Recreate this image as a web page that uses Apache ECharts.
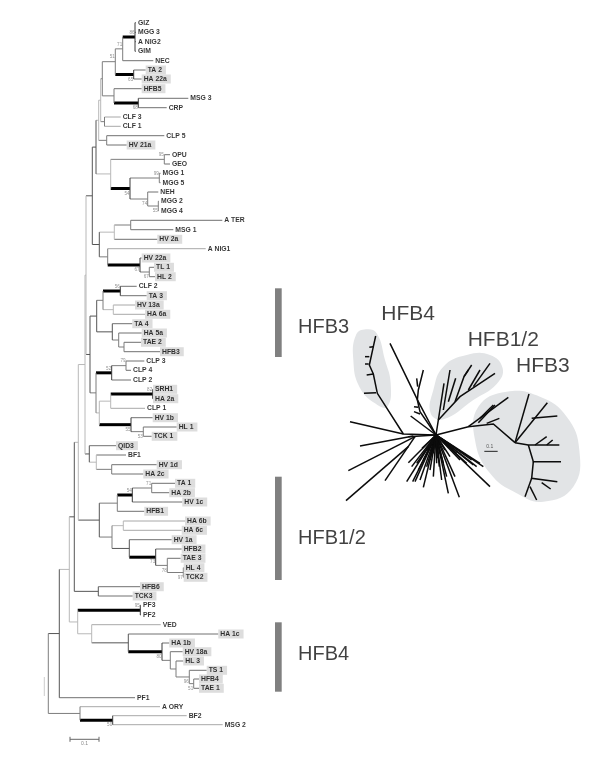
<!DOCTYPE html>
<html><head><meta charset="utf-8">
<style>html,body{margin:0;padding:0;background:#fff}#c{width:600px;height:760px}</style>
<script src="https://cdn.jsdelivr.net/npm/echarts@6/dist/echarts.min.js"></script>
</head><body><div id="c"></div>
<script>
// ---------- main tree: taxa (distance from root in tree units, 29 units = bar 0.1) ----------
const taxa = ["GIZ","MGG 3","A NIG2","GIM","NEC","TA 2","HA 22a","HFB5","MSG 3","CRP","CLF 3","CLF 1","CLP 5","HV 21a","OPU","GEO","MGG 1","MGG 5","NEH","MGG 2","MGG 4","A TER","MSG 1","HV 2a","A NIG1","HV 22a","TL 1","HL 2","CLF 2","TA 3","HV 13a","HA 6a","TA 4","HA 5a","TAE 2","HFB3","CLP 3","CLP 4","CLP 2","SRH1","HA 2a","CLP 1","HV 1b","HL 1","TCK 1","QID3","BF1","HV 1d","HA 2c","TA 1","HA 2b","HV 1c","HFB1","HA 6b","HA 6c","HV 1a","HFB2","TAE 3","HL 4","TCK2","HFB6","TCK3","PF3","PF2","VED","HA 1c","HA 1b","HV 18a","HL 3","TS 1","HFB4","TAE 1","PF1","A ORY","BF2","MSG 2"];
const taxaRowY = [22.7,32.3,41.7,51.3,60.7,70,79,88.7,98.3,107.7,117,126.3,135.7,145,154.7,164,173.3,182.7,192,201.3,210.7,220.3,229.7,239.3,248.7,258,267.3,276.7,286.3,295.7,305,314.3,323.7,333,342.3,351.7,361,370.3,380,389.3,398.7,408.3,417.7,427,436.3,445.7,455,464.7,474,483.3,492.7,502,511.3,521,530.3,539.7,549,558.3,567.7,577.3,586.7,596,605.3,615,624.7,634,643,651.7,661,670.3,679,688.3,697.7,706.7,715.7,724.7];
const taxaDist = [88,88,88,88,105.3,97.7,93.7,93.7,140.3,118.7,72.7,72.7,116.3,78.7,122,122,112.5,112.5,110.3,111,111,174.3,125.3,109.3,157.7,93.7,106,107,88.7,98.7,87,97,84.3,93.7,93,112,96.3,83,83,105,105,97,104.7,128.7,103.7,68,78,108.7,95.3,127,121.3,134.3,96.3,137,133.7,123.7,133.7,132.7,135.7,135.7,92,84.7,93,93,112.7,170.3,121.3,134.7,135.3,158.7,151,151,87,112,138.7,174.7];
const taxaParent = ["R6a","R6a","R6a","R6a","R6","R5b","R5b","R4b","R4c","R4c","R3b","R3b","R2b","R2b","R7a","R7a","R7c","R7c","R7d","R7e","R7e","R9a","R9a","R9","R10","R10a","R10b","R10b","U1","U1","U2","U2","V","W","X","X","Z1","Z1","Z","AB1","AB1","AB","AC","AD","AD","AE","AF","AG","AG","AJ1","AJ1","AJ","AI","AK1","AK1","AL","AM","AN","AO","AO","D2","D2","PF","PF","F","G","H","I","J","K","L","L","A","B","B2","B2"];
const shadedTaxa = ["TA 2","HA 22a","HFB5","HV 21a","HV 2a","HV 22a","TL 1","HL 2","TA 3","HV 13a","HA 6a","TA 4","HA 5a","TAE 2","HFB3","SRH1","HA 2a","HV 1b","HL 1","TCK 1","QID3","HV 1d","HA 2c","TA 1","HA 2b","HV 1c","HFB1","HA 6b","HA 6c","HV 1a","HFB2","TAE 3","HL 4","TCK2","HFB6","TCK3","HA 1c","HA 1b","HV 18a","HL 3","TS 1","HFB4","TAE 1"];
const paleTaxa = ["A NIG1","VED","BF2","MSG 2","A ORY","HA 6b","HA 6c","HV 13a","HA 6a","CLF 3","CLF 1","CLP 1"];

// ---------- main tree: internal clades ----------
const cladeIds = ["root","A","B","C","D","D1","D2","E","PF","F","G","H","I","J","K","L","B2","P","Q","AE","S","R","T","U","U1","U2","V","W","X","Y","Z","Z1","AA","AB","AB1","AC","AD","AF","AG","AH","AI","AJ","AJ1","AK","AK1","AL","AM","AN","AO","R1","R2","R3","R4","R5","R6","R6a","R5b","R4b","R4c","R3b","R2b","R7","R7a","R7b","R7c","R7d","R7e","R8","R9","R9a","R10","R10a","R10b"];
const cladeParents = [null,"root","root","A","C","D","D","C","E","E","F","G","H","I","J","K","B","D1","P","P","Q","Q","S","T","U","U","T","V","W","S","Y","Z","Y","AA","AB","AA","AC","AE","AF","D1","AH","AI","AJ","AH","AK","AK","AL","AM","AN","R","R1","R2","R3","R4","R5","R6","R5","R4","R4b","R3","R2","R1","R7","R7","R7b","R7b","R7d","R","R8","R9","R8","R10","R10a"];
const cladeDists = [0.3,11.3,32,21.3,26.3,30.3,50.3,29.7,92.3,43.7,80.3,114,122.3,128,141.3,145.7,64.7,37,38,41.3,42,44.3,48.7,55,72.3,65.3,64.3,70.7,76,48,63.7,78,51.3,62.7,104.7,83,95.3,48.3,63.7,51.3,69.3,84.3,103.7,64,75.3,81.3,107.7,119.3,135.3,48,50.7,52.7,54.3,67.3,74.7,87,85.7,66,90.3,56.5,58.7,62.7,116.3,82,111.3,99.7,110.3,51.3,66.3,82.7,59.7,92,101.3];
const thickStems = ["R6a","R5b","R4c","R7b","R10a","U1","Z","AB1","AC","AJ","AM","PF","H","B2"];
const paleStems = ["C","E","F","Q","P","D1","R2","R3","U2","R7","AA","AF","R9","AK1","AB"];
const darkStems = ["A","D","D2","R","R1","R8","V","AL","AE","G","AH","T","S"];

const supportClades = ["R6a","R6","R5","R5b","R4c","R7a","R7c","R7b","R7d","R7e","R10a","R10b","U1","Z1","Z","AB1","AC","AD","AJ1","AJ","AM","AN","AO","PF","H","K","L","B2"];
const supportValues = ["86","71","51","65","68","95","99","54","74","55","67","67","56","79","52","82","55","53","71","54","73","78","97","95","80","96","51","50"];
const supportBelow = [0,0,0,1,1,0,0,1,1,1,1,1,0,0,0,0,1,1,0,0,1,1,1,0,1,1,1,1];

// ---------- group bars and big labels ----------
const groupNames = ["HFB3","HFB1/2","HFB4"];
const groupBarStart = [288.3,476.7,622.3];
const groupBarEnd = [357,580,691.7];
const groupLabelY = [327,538,654];
const insetTitles = ["HFB4","HFB1/2","HFB3"];
const insetTitleX = [124,383,528];
const insetTitleY = [72,150,230];

// ---------- inset unrooted tree, units = its own axes ----------
const insetBlobs = [
 [[78,118],[110,130],[135,210],[152,280],[142,350],[105,340],[58,290],[40,210],[48,135]],
 [[380,195],[450,195],[488,235],[470,282],[400,330],[310,388],[272,370],[280,300],[310,230]],
 [[500,305],[600,320],[680,380],[718,480],[700,590],[610,635],[530,610],[450,550],[405,450],[415,350]]
];
const insetBranches = [
 [[288,435],[190,432],[30,395]],
 [[190,432],[112,310],[100,252],[88,225],[100,170],[107,138]],
 [[100,170],[88,172]],[[88,200],[75,200]],[[86,222],[75,222]],[[100,252],[80,255]],[[108,308],[72,310]],
 [[288,435],[235,335],[150,160]],
 [[288,435],[240,365],[232,330],[235,300],[250,240]],
 [[233,290],[230,265]],[[222,350],[235,352]],[[222,365],[240,372]],[[212,378],[288,435]],
 [[288,435],[295,390],[360,320],[465,250]],
 [[295,390],[312,280]],[[310,360],[330,240]],[[325,335],[347,265]],[[345,335],[372,260],[395,225]],
 [[372,260],[385,240]],[[385,300],[420,240]],[[400,290],[450,220]],
 [[288,435],[385,410],[460,402],[525,458]],
 [[385,410],[505,322]],[[415,398],[465,345]],[[420,385],[460,345]],[[440,400],[478,385]],
 [[525,458],[567,312]],[[525,458],[622,338]],[[575,385],[652,378]],
 [[525,458],[565,465],[658,465]],[[585,465],[620,440]],[[620,465],[638,450]],
 [[565,465],[580,515],[663,515]],[[580,515],[575,565],[652,575]],[[575,565],[555,620]],[[570,590],[590,630]],[[605,578],[632,597]],
 [[220,438],[60,468]],[[225,440],[25,542]],[[225,440],[135,572]],[[205,470],[18,632]],[[288,435],[205,440]],
 [[288,435],[205,518]],[[288,435],[200,575]],[[288,435],[218,575]],[[288,435],[240,570]],[[288,435],[250,592]],
 [[288,435],[280,560]],[[288,435],[298,530]],[[288,435],[325,610]],[[288,435],[358,622]],[[288,435],[345,560]],
 [[288,435],[430,530]],[[288,435],[420,520]],[[288,435],[450,590]],[[288,435],[400,525]],[[288,435],[380,520]],
 [[288,435],[260,530]],[[288,435],[235,540]],[[288,435],[225,575]],[[288,435],[310,520]],[[288,435],[270,510]],
 [[288,435],[330,500]],[[288,435],[350,490]],[[288,435],[250,510]],[[288,435],[215,530]],[[288,435],[230,520]],
 [[288,435],[290,520]],[[288,435],[320,560]],[[288,435],[305,570]],[[288,435],[270,540]],[[288,435],[360,510]],
 [[288,435],[395,510]],[[288,435],[410,530]],[[288,435],[340,470]],[[288,435],[262,480]],[[288,435],[280,490]],
 [[288,435],[300,490]],[[288,435],[315,480]],[[288,435],[246,475]],[[288,435],[330,465]],[[288,435],[292,505]]
];
const insetScaleBar = [[433,484],[473,484]];

// ---------- small extras ----------
const scaleBarDist = [22,51];
const scaleBarY = 739.3;
const strayMark = [[-3.7,677],[-3.7,696]];

// ---------- build tree geometry ----------
const nodes = {};
cladeIds.forEach((id,i)=>{nodes[id]={id,x:cladeDists[i],parent:cladeParents[i],kids:[]};});
cladeIds.forEach((id,i)=>{if(cladeParents[i])nodes[cladeParents[i]].kids.push(nodes[id]);});
taxa.forEach((t,i)=>{nodes[taxaParent[i]].kids.push({id:t,taxon:true,x:taxaDist[i],y:taxaRowY[i],kids:[]});});
function layout(n){
  if(n.taxon)return n.y;
  n.kids.forEach(layout);
  const ys=n.kids.map(k=>k.y);
  n.y=(Math.min(...ys)+Math.max(...ys))/2;
  n.top=Math.min(...ys);n.bottom=Math.max(...ys);
  return n.y;
}
layout(nodes.root);
const segments=[],segStyle=[];
function stemStyle(id,vertical){
  if(thickStems.includes(id))return vertical?['#3a3a3a',1]:['#000',3];
  if(paleStems.includes(id))return ['#b8b8b8',1];
  if(darkStems.includes(id))return ['#555',1];
  return ['#7d7d7d',1];
}
function walk(n){
  n.kids.forEach(k=>{
    const st=k.taxon?[paleTaxa.includes(k.id)?'#a8a8a8':'#707070',1]:stemStyle(k.id,false);
    segments.push([n.x,k.y,k.x,k.y]);segStyle.push(st);
    walk(k);
  });
  if(!n.taxon){segments.push([n.x,n.top,n.x,n.bottom]);segStyle.push(stemStyle(n.id,true));}
}
walk(nodes.root);
segments.push([scaleBarDist[0],scaleBarY,scaleBarDist[1],scaleBarY]);segStyle.push(['#666',1]);
segments.push([scaleBarDist[0],scaleBarY-2.5,scaleBarDist[0],scaleBarY+2.5]);segStyle.push(['#666',1]);
segments.push([scaleBarDist[1],scaleBarY-2.5,scaleBarDist[1],scaleBarY+2.5]);segStyle.push(['#666',1]);
segments.push([strayMark[0][0],strayMark[0][1],strayMark[1][0],strayMark[1][1]]);segStyle.push(['#ccc',1]);

const FONT='"Liberation Sans",Arial,sans-serif';
const taxaLabels=taxa.map((t,i)=>{
  const shaded=shadedTaxa.includes(t);
  return {value:[taxaDist[i],taxaRowY[i]],name:t,label:shaded?{backgroundColor:'#d4d4d4',padding:[1,4,1,2],distance:0}:{padding:[0,0,0,1],distance:1}};
});
const supportLabels=supportClades.map((c,i)=>({
  value:[nodes[c].x-0.5,nodes[c].y+(supportBelow[i]?5:-4.5)],name:supportValues[i]
}));

function segRender(params,api){
  const a=api.coord([api.value(0),api.value(1)]),b=api.coord([api.value(2),api.value(3)]);
  const s=segStyle[params.dataIndex];
  return {type:'line',shape:{x1:a[0],y1:a[1],x2:b[0],y2:b[1]},style:{stroke:s[0],lineWidth:s[1],lineCap:'butt'}};
}
function insetLineRender(params,api){
  const pts=insetBranches[params.dataIndex].map(p=>api.coord(p));
  return {type:'polyline',shape:{points:pts},style:{stroke:'#0c0c0c',lineWidth:1.5,fill:null}};
}
function blobRender(params,api){
  const pts=insetBlobs[params.dataIndex].map(p=>api.coord(p));
  return {type:'polygon',shape:{points:pts,smooth:0.45},style:{fill:'#e2e4e6',stroke:null}};
}
function barRender(params,api){
  const a=api.coord([227,api.value(0)]),b=api.coord([233.7,api.value(1)]);
  return {type:'rect',shape:{x:a[0],y:a[1],width:b[0]-a[0],height:b[1]-a[1]},style:{fill:'#808080'}};
}
const bigLabel={show:true,position:'right',distance:0,color:'#111',fontFamily:FONT,formatter:p=>p.name};

const chart=echarts.init(document.getElementById('c'),null,{renderer:'canvas'});
chart.setOption({
  animation:false,backgroundColor:'#fff',tooltip:{show:false},
  grid:[{left:0,right:0,top:0,bottom:0},{left:340,top:290,width:240,height:240}],
  xAxis:[{type:'value',min:-48,max:552,show:false},{type:'value',gridIndex:1,min:0,max:720,show:false}],
  yAxis:[{type:'value',min:0,max:760,inverse:true,show:false},{type:'value',gridIndex:1,min:0,max:720,inverse:true,show:false}],
  series:[
   {type:'custom',coordinateSystem:'cartesian2d',xAxisIndex:1,yAxisIndex:1,silent:true,clip:false,z:1,renderItem:blobRender,data:insetBlobs.map((b,i)=>[i,i])},
   {type:'custom',coordinateSystem:'cartesian2d',xAxisIndex:1,yAxisIndex:1,silent:true,clip:false,z:2,renderItem:insetLineRender,data:insetBranches.map((b,i)=>[i,i])},
   {type:'custom',coordinateSystem:'cartesian2d',silent:true,clip:false,z:2,renderItem:barRender,data:groupBarStart.map((s,i)=>[s,groupBarEnd[i]])},
   {type:'custom',coordinateSystem:'cartesian2d',silent:true,clip:false,z:3,renderItem:segRender,data:segments,encode:{x:[0,2],y:[1,3]}},
   {type:'line',xAxisIndex:1,yAxisIndex:1,silent:true,z:3,symbol:'none',lineStyle:{color:'#222',width:1},data:insetScaleBar},
   {type:'scatter',xAxisIndex:1,yAxisIndex:1,silent:true,z:4,symbolSize:0,data:[{value:[433,470],name:'0.1'}],
    label:{show:true,position:'right',distance:2,fontSize:5,color:'#333',fontFamily:FONT,formatter:p=>p.name}},
   {type:'scatter',silent:true,z:5,symbolSize:0,data:taxaLabels,
    label:{show:true,position:'right',fontSize:6.8,fontWeight:'bold',color:'#000',fontFamily:FONT,formatter:p=>p.name}},
   {type:'scatter',silent:true,z:4,symbolSize:0,data:supportLabels,
    label:{show:true,position:'left',distance:0,fontSize:4.6,color:'#777',fontFamily:FONT,formatter:p=>p.name}},
   {type:'scatter',silent:true,z:4,symbolSize:0,data:[{value:[36.5,743.5],name:'0.1'}],
    label:{show:true,position:'inside',fontSize:5,color:'#666',fontFamily:FONT,formatter:p=>p.name}},
   {type:'scatter',silent:true,z:5,symbolSize:0,data:groupNames.map((n,i)=>({value:[250,groupLabelY[i]],name:n})),label:Object.assign({},bigLabel,{fontSize:20})},
   {type:'scatter',xAxisIndex:1,yAxisIndex:1,silent:true,z:5,symbolSize:0,data:insetTitles.map((n,i)=>({value:[insetTitleX[i],insetTitleY[i]],name:n})),label:Object.assign({},bigLabel,{fontSize:21})}
  ]
});
</script></body></html>
